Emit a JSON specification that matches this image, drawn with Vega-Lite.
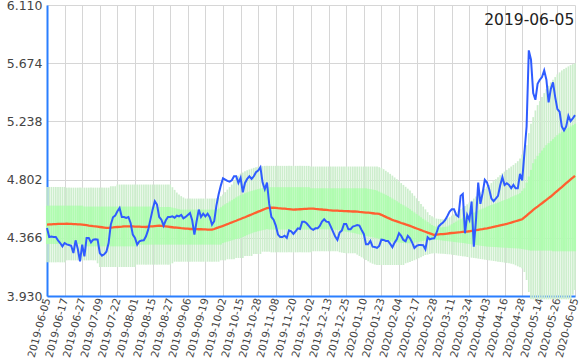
{
"$schema":"https://vega.github.io/schema/vega-lite/v6.json",
"width":528,"height":291,
"autosize":{"type":"none"},
"padding":{"left":47,"top":5,"right":10,"bottom":64},
"background":"white",
"config":{"view":{"stroke":null},"axis":{"labelFont":"DejaVu Sans","labelColor":"#444444","gridColor":"#d6d6d6","gridWidth":1,"domainColor":"#2a7fff","domainWidth":2,"ticks":false,"title":null,"zindex":1}},
"title":{"text":"2019-06-05","anchor":"end","orient":"top","font":"DejaVu Sans","fontSize":15.5,"fontWeight":"normal","color":"#222222","dy":33,"dx":-6},
"data":{"values":[
{"d":"2019-06-05","c":4.44,"m":4.465,"u2":4.747,"u1":4.607,"l1":4.32,"l2":4.182},
{"d":"2019-06-06","c":4.372,"m":4.466,"u2":4.747,"u1":4.607,"l1":4.32,"l2":4.182},
{"d":"2019-06-07","c":4.375,"m":4.467,"u2":4.747,"u1":4.607,"l1":4.32,"l2":4.182},
{"d":"2019-06-10","c":4.372,"m":4.468,"u2":4.747,"u1":4.607,"l1":4.32,"l2":4.182},
{"d":"2019-06-11","c":4.372,"m":4.469,"u2":4.747,"u1":4.607,"l1":4.32,"l2":4.182},
{"d":"2019-06-12","c":4.347,"m":4.47,"u2":4.747,"u1":4.607,"l1":4.32,"l2":4.182},
{"d":"2019-06-13","c":4.327,"m":4.47,"u2":4.747,"u1":4.607,"l1":4.32,"l2":4.182},
{"d":"2019-06-14","c":4.302,"m":4.471,"u2":4.747,"u1":4.607,"l1":4.32,"l2":4.182},
{"d":"2019-06-17","c":4.327,"m":4.471,"u2":4.747,"u1":4.607,"l1":4.32,"l2":4.182},
{"d":"2019-06-18","c":4.317,"m":4.472,"u2":4.742,"u1":4.607,"l1":4.32,"l2":4.197},
{"d":"2019-06-19","c":4.312,"m":4.471,"u2":4.742,"u1":4.607,"l1":4.32,"l2":4.197},
{"d":"2019-06-20","c":4.307,"m":4.47,"u2":4.742,"u1":4.607,"l1":4.32,"l2":4.197},
{"d":"2019-06-21","c":4.252,"m":4.469,"u2":4.742,"u1":4.607,"l1":4.32,"l2":4.197},
{"d":"2019-06-24","c":4.347,"m":4.468,"u2":4.742,"u1":4.607,"l1":4.32,"l2":4.197},
{"d":"2019-06-25","c":4.282,"m":4.467,"u2":4.742,"u1":4.607,"l1":4.32,"l2":4.197},
{"d":"2019-06-26","c":4.19,"m":4.466,"u2":4.742,"u1":4.607,"l1":4.32,"l2":4.197},
{"d":"2019-06-27","c":4.315,"m":4.465,"u2":4.742,"u1":4.607,"l1":4.302,"l2":4.197},
{"d":"2019-06-28","c":4.227,"m":4.463,"u2":4.742,"u1":4.6,"l1":4.302,"l2":4.197},
{"d":"2019-07-01","c":4.365,"m":4.461,"u2":4.742,"u1":4.6,"l1":4.302,"l2":4.197},
{"d":"2019-07-02","c":4.365,"m":4.458,"u2":4.742,"u1":4.6,"l1":4.302,"l2":4.197},
{"d":"2019-07-03","c":4.332,"m":4.456,"u2":4.742,"u1":4.6,"l1":4.302,"l2":4.197},
{"d":"2019-07-04","c":4.352,"m":4.453,"u2":4.742,"u1":4.6,"l1":4.302,"l2":4.197},
{"d":"2019-07-05","c":4.355,"m":4.451,"u2":4.742,"u1":4.6,"l1":4.302,"l2":4.197},
{"d":"2019-07-08","c":4.352,"m":4.449,"u2":4.742,"u1":4.6,"l1":4.302,"l2":4.175},
{"d":"2019-07-09","c":4.252,"m":4.447,"u2":4.742,"u1":4.6,"l1":4.302,"l2":4.147},
{"d":"2019-07-10","c":4.232,"m":4.445,"u2":4.742,"u1":4.6,"l1":4.302,"l2":4.147},
{"d":"2019-07-11","c":4.242,"m":4.443,"u2":4.742,"u1":4.6,"l1":4.302,"l2":4.147},
{"d":"2019-07-12","c":4.262,"m":4.441,"u2":4.742,"u1":4.6,"l1":4.302,"l2":4.147},
{"d":"2019-07-16","c":4.327,"m":4.441,"u2":4.742,"u1":4.6,"l1":4.302,"l2":4.147},
{"d":"2019-07-17","c":4.465,"m":4.443,"u2":4.752,"u1":4.6,"l1":4.302,"l2":4.147},
{"d":"2019-07-18","c":4.52,"m":4.444,"u2":4.752,"u1":4.6,"l1":4.302,"l2":4.147},
{"d":"2019-07-19","c":4.532,"m":4.446,"u2":4.752,"u1":4.6,"l1":4.302,"l2":4.147},
{"d":"2019-07-22","c":4.565,"m":4.447,"u2":4.765,"u1":4.6,"l1":4.302,"l2":4.147},
{"d":"2019-07-23","c":4.59,"m":4.448,"u2":4.765,"u1":4.6,"l1":4.302,"l2":4.147},
{"d":"2019-07-24","c":4.522,"m":4.449,"u2":4.765,"u1":4.6,"l1":4.302,"l2":4.147},
{"d":"2019-07-25","c":4.522,"m":4.451,"u2":4.765,"u1":4.6,"l1":4.302,"l2":4.147},
{"d":"2019-07-26","c":4.515,"m":4.452,"u2":4.765,"u1":4.6,"l1":4.302,"l2":4.147},
{"d":"2019-07-29","c":4.522,"m":4.452,"u2":4.765,"u1":4.6,"l1":4.302,"l2":4.147},
{"d":"2019-07-30","c":4.477,"m":4.451,"u2":4.765,"u1":4.6,"l1":4.302,"l2":4.147},
{"d":"2019-07-31","c":4.39,"m":4.451,"u2":4.765,"u1":4.6,"l1":4.302,"l2":4.147},
{"d":"2019-08-01","c":4.365,"m":4.45,"u2":4.765,"u1":4.6,"l1":4.302,"l2":4.147},
{"d":"2019-08-02","c":4.315,"m":4.45,"u2":4.765,"u1":4.6,"l1":4.315,"l2":4.165},
{"d":"2019-08-05","c":4.34,"m":4.449,"u2":4.765,"u1":4.6,"l1":4.315,"l2":4.165},
{"d":"2019-08-06","c":4.345,"m":4.448,"u2":4.765,"u1":4.6,"l1":4.315,"l2":4.165},
{"d":"2019-08-07","c":4.347,"m":4.448,"u2":4.765,"u1":4.6,"l1":4.315,"l2":4.165},
{"d":"2019-08-08","c":4.377,"m":4.447,"u2":4.765,"u1":4.6,"l1":4.315,"l2":4.165},
{"d":"2019-08-09","c":4.427,"m":4.449,"u2":4.765,"u1":4.6,"l1":4.315,"l2":4.165},
{"d":"2019-08-14","c":4.502,"m":4.451,"u2":4.765,"u1":4.6,"l1":4.315,"l2":4.165},
{"d":"2019-08-15","c":4.577,"m":4.452,"u2":4.765,"u1":4.6,"l1":4.315,"l2":4.165},
{"d":"2019-08-16","c":4.64,"m":4.454,"u2":4.765,"u1":4.6,"l1":4.315,"l2":4.165},
{"d":"2019-08-19","c":4.615,"m":4.456,"u2":4.765,"u1":4.6,"l1":4.315,"l2":4.165},
{"d":"2019-08-20","c":4.522,"m":4.457,"u2":4.765,"u1":4.597,"l1":4.315,"l2":4.165},
{"d":"2019-08-21","c":4.502,"m":4.455,"u2":4.765,"u1":4.597,"l1":4.315,"l2":4.165},
{"d":"2019-08-22","c":4.457,"m":4.453,"u2":4.765,"u1":4.597,"l1":4.315,"l2":4.165},
{"d":"2019-08-23","c":4.497,"m":4.451,"u2":4.765,"u1":4.597,"l1":4.315,"l2":4.165},
{"d":"2019-08-26","c":4.522,"m":4.449,"u2":4.765,"u1":4.597,"l1":4.315,"l2":4.165},
{"d":"2019-08-27","c":4.522,"m":4.447,"u2":4.765,"u1":4.597,"l1":4.315,"l2":4.165},
{"d":"2019-08-28","c":4.527,"m":4.445,"u2":4.745,"u1":4.592,"l1":4.315,"l2":4.175},
{"d":"2019-08-29","c":4.517,"m":4.443,"u2":4.725,"u1":4.588,"l1":4.315,"l2":4.187},
{"d":"2019-08-30","c":4.532,"m":4.442,"u2":4.705,"u1":4.584,"l1":4.315,"l2":4.187},
{"d":"2019-09-02","c":4.527,"m":4.44,"u2":4.69,"u1":4.58,"l1":4.315,"l2":4.187},
{"d":"2019-09-03","c":4.537,"m":4.438,"u2":4.678,"u1":4.577,"l1":4.315,"l2":4.187},
{"d":"2019-09-04","c":4.512,"m":4.437,"u2":4.668,"u1":4.577,"l1":4.315,"l2":4.187},
{"d":"2019-09-05","c":4.522,"m":4.435,"u2":4.66,"u1":4.577,"l1":4.315,"l2":4.187},
{"d":"2019-09-06","c":4.537,"m":4.434,"u2":4.66,"u1":4.577,"l1":4.315,"l2":4.187},
{"d":"2019-09-09","c":4.552,"m":4.432,"u2":4.66,"u1":4.577,"l1":4.315,"l2":4.187},
{"d":"2019-09-10","c":4.497,"m":4.432,"u2":4.66,"u1":4.577,"l1":4.315,"l2":4.187},
{"d":"2019-09-11","c":4.39,"m":4.431,"u2":4.66,"u1":4.577,"l1":4.315,"l2":4.187},
{"d":"2019-09-12","c":4.49,"m":4.431,"u2":4.66,"u1":4.577,"l1":4.315,"l2":4.187},
{"d":"2019-09-13","c":4.577,"m":4.43,"u2":4.66,"u1":4.577,"l1":4.315,"l2":4.187},
{"d":"2019-09-17","c":4.522,"m":4.43,"u2":4.66,"u1":4.577,"l1":4.315,"l2":4.187},
{"d":"2019-09-18","c":4.547,"m":4.429,"u2":4.66,"u1":4.577,"l1":4.315,"l2":4.187},
{"d":"2019-09-19","c":4.527,"m":4.429,"u2":4.66,"u1":4.577,"l1":4.315,"l2":4.187},
{"d":"2019-09-20","c":4.547,"m":4.428,"u2":4.66,"u1":4.577,"l1":4.315,"l2":4.187},
{"d":"2019-09-24","c":4.52,"m":4.427,"u2":4.66,"u1":4.577,"l1":4.315,"l2":4.187},
{"d":"2019-09-25","c":4.465,"m":4.427,"u2":4.66,"u1":4.577,"l1":4.315,"l2":4.187},
{"d":"2019-09-26","c":4.49,"m":4.432,"u2":4.66,"u1":4.577,"l1":4.315,"l2":4.187},
{"d":"2019-09-27","c":4.607,"m":4.438,"u2":4.662,"u1":4.577,"l1":4.315,"l2":4.187},
{"d":"2019-09-30","c":4.69,"m":4.444,"u2":4.665,"u1":4.585,"l1":4.315,"l2":4.187},
{"d":"2019-10-01","c":4.757,"m":4.449,"u2":4.677,"u1":4.595,"l1":4.315,"l2":4.197},
{"d":"2019-10-02","c":4.812,"m":4.455,"u2":4.69,"u1":4.607,"l1":4.327,"l2":4.197},
{"d":"2019-10-03","c":4.802,"m":4.462,"u2":4.708,"u1":4.617,"l1":4.332,"l2":4.197},
{"d":"2019-10-04","c":4.792,"m":4.468,"u2":4.727,"u1":4.627,"l1":4.337,"l2":4.205},
{"d":"2019-10-07","c":4.787,"m":4.475,"u2":4.746,"u1":4.638,"l1":4.342,"l2":4.205},
{"d":"2019-10-08","c":4.797,"m":4.481,"u2":4.765,"u1":4.648,"l1":4.347,"l2":4.205},
{"d":"2019-10-09","c":4.827,"m":4.488,"u2":4.79,"u1":4.658,"l1":4.352,"l2":4.205},
{"d":"2019-10-10","c":4.827,"m":4.494,"u2":4.815,"u1":4.668,"l1":4.357,"l2":4.215},
{"d":"2019-10-11","c":4.777,"m":4.501,"u2":4.831,"u1":4.677,"l1":4.361,"l2":4.215},
{"d":"2019-10-15","c":4.815,"m":4.507,"u2":4.847,"u1":4.685,"l1":4.365,"l2":4.215},
{"d":"2019-10-16","c":4.707,"m":4.514,"u2":4.855,"u1":4.692,"l1":4.372,"l2":4.215},
{"d":"2019-10-17","c":4.777,"m":4.52,"u2":4.864,"u1":4.7,"l1":4.379,"l2":4.23},
{"d":"2019-10-18","c":4.807,"m":4.527,"u2":4.872,"u1":4.706,"l1":4.386,"l2":4.23},
{"d":"2019-10-21","c":4.827,"m":4.534,"u2":4.878,"u1":4.712,"l1":4.393,"l2":4.23},
{"d":"2019-10-23","c":4.807,"m":4.541,"u2":4.884,"u1":4.718,"l1":4.4,"l2":4.23},
{"d":"2019-10-24","c":4.827,"m":4.548,"u2":4.89,"u1":4.722,"l1":4.407,"l2":4.245},
{"d":"2019-10-25","c":4.857,"m":4.555,"u2":4.895,"u1":4.727,"l1":4.411,"l2":4.245},
{"d":"2019-10-28","c":4.87,"m":4.562,"u2":4.898,"u1":4.731,"l1":4.415,"l2":4.245},
{"d":"2019-10-29","c":4.895,"m":4.568,"u2":4.901,"u1":4.735,"l1":4.419,"l2":4.245},
{"d":"2019-10-30","c":4.78,"m":4.575,"u2":4.903,"u1":4.739,"l1":4.423,"l2":4.262},
{"d":"2019-10-31","c":4.73,"m":4.582,"u2":4.905,"u1":4.742,"l1":4.427,"l2":4.262},
{"d":"2019-11-01","c":4.78,"m":4.588,"u2":4.905,"u1":4.745,"l1":4.432,"l2":4.262},
{"d":"2019-11-05","c":4.62,"m":4.59,"u2":4.905,"u1":4.745,"l1":4.428,"l2":4.262},
{"d":"2019-11-06","c":4.522,"m":4.592,"u2":4.905,"u1":4.745,"l1":4.428,"l2":4.257},
{"d":"2019-11-07","c":4.502,"m":4.591,"u2":4.905,"u1":4.745,"l1":4.428,"l2":4.257},
{"d":"2019-11-08","c":4.457,"m":4.59,"u2":4.905,"u1":4.745,"l1":4.428,"l2":4.257},
{"d":"2019-11-11","c":4.39,"m":4.588,"u2":4.905,"u1":4.745,"l1":4.428,"l2":4.257},
{"d":"2019-11-12","c":4.372,"m":4.587,"u2":4.905,"u1":4.745,"l1":4.428,"l2":4.257},
{"d":"2019-11-13","c":4.372,"m":4.585,"u2":4.905,"u1":4.745,"l1":4.428,"l2":4.257},
{"d":"2019-11-14","c":4.382,"m":4.584,"u2":4.905,"u1":4.745,"l1":4.428,"l2":4.257},
{"d":"2019-11-15","c":4.365,"m":4.582,"u2":4.905,"u1":4.745,"l1":4.428,"l2":4.257},
{"d":"2019-11-18","c":4.422,"m":4.581,"u2":4.905,"u1":4.745,"l1":4.428,"l2":4.257},
{"d":"2019-11-19","c":4.415,"m":4.579,"u2":4.905,"u1":4.745,"l1":4.428,"l2":4.257},
{"d":"2019-11-20","c":4.395,"m":4.577,"u2":4.905,"u1":4.745,"l1":4.428,"l2":4.257},
{"d":"2019-11-21","c":4.415,"m":4.578,"u2":4.905,"u1":4.745,"l1":4.428,"l2":4.257},
{"d":"2019-11-22","c":4.437,"m":4.579,"u2":4.905,"u1":4.745,"l1":4.428,"l2":4.257},
{"d":"2019-11-25","c":4.432,"m":4.58,"u2":4.905,"u1":4.745,"l1":4.428,"l2":4.257},
{"d":"2019-11-26","c":4.487,"m":4.581,"u2":4.905,"u1":4.745,"l1":4.428,"l2":4.257},
{"d":"2019-11-27","c":4.487,"m":4.582,"u2":4.905,"u1":4.745,"l1":4.428,"l2":4.257},
{"d":"2019-11-28","c":4.475,"m":4.583,"u2":4.905,"u1":4.745,"l1":4.428,"l2":4.257},
{"d":"2019-11-29","c":4.455,"m":4.584,"u2":4.905,"u1":4.745,"l1":4.428,"l2":4.257},
{"d":"2019-12-02","c":4.435,"m":4.585,"u2":4.9,"u1":4.737,"l1":4.43,"l2":4.257},
{"d":"2019-12-03","c":4.425,"m":4.584,"u2":4.9,"u1":4.737,"l1":4.43,"l2":4.265},
{"d":"2019-12-04","c":4.437,"m":4.582,"u2":4.9,"u1":4.737,"l1":4.43,"l2":4.265},
{"d":"2019-12-05","c":4.437,"m":4.581,"u2":4.9,"u1":4.737,"l1":4.43,"l2":4.265},
{"d":"2019-12-06","c":4.455,"m":4.579,"u2":4.9,"u1":4.737,"l1":4.43,"l2":4.265},
{"d":"2019-12-10","c":4.487,"m":4.578,"u2":4.9,"u1":4.737,"l1":4.43,"l2":4.265},
{"d":"2019-12-11","c":4.505,"m":4.576,"u2":4.9,"u1":4.737,"l1":4.43,"l2":4.265},
{"d":"2019-12-12","c":4.487,"m":4.575,"u2":4.9,"u1":4.737,"l1":4.43,"l2":4.265},
{"d":"2019-12-13","c":4.485,"m":4.573,"u2":4.9,"u1":4.737,"l1":4.43,"l2":4.265},
{"d":"2019-12-16","c":4.45,"m":4.572,"u2":4.9,"u1":4.737,"l1":4.43,"l2":4.265},
{"d":"2019-12-17","c":4.412,"m":4.57,"u2":4.9,"u1":4.737,"l1":4.43,"l2":4.265},
{"d":"2019-12-18","c":4.375,"m":4.569,"u2":4.9,"u1":4.737,"l1":4.427,"l2":4.265},
{"d":"2019-12-19","c":4.35,"m":4.569,"u2":4.9,"u1":4.737,"l1":4.424,"l2":4.265},
{"d":"2019-12-20","c":4.405,"m":4.568,"u2":4.9,"u1":4.737,"l1":4.421,"l2":4.258},
{"d":"2019-12-23","c":4.42,"m":4.567,"u2":4.9,"u1":4.737,"l1":4.418,"l2":4.255},
{"d":"2019-12-24","c":4.47,"m":4.566,"u2":4.9,"u1":4.737,"l1":4.415,"l2":4.252},
{"d":"2019-12-25","c":4.47,"m":4.566,"u2":4.9,"u1":4.737,"l1":4.412,"l2":4.25},
{"d":"2019-12-26","c":4.43,"m":4.565,"u2":4.9,"u1":4.737,"l1":4.409,"l2":4.25},
{"d":"2019-12-27","c":4.43,"m":4.564,"u2":4.9,"u1":4.737,"l1":4.406,"l2":4.25},
{"d":"2019-12-30","c":4.45,"m":4.563,"u2":4.9,"u1":4.737,"l1":4.403,"l2":4.25},
{"d":"2020-01-06","c":4.455,"m":4.563,"u2":4.9,"u1":4.737,"l1":4.4,"l2":4.25},
{"d":"2020-01-07","c":4.462,"m":4.562,"u2":4.9,"u1":4.737,"l1":4.396,"l2":4.24},
{"d":"2020-01-08","c":4.457,"m":4.56,"u2":4.9,"u1":4.737,"l1":4.392,"l2":4.23},
{"d":"2020-01-09","c":4.425,"m":4.559,"u2":4.9,"u1":4.737,"l1":4.388,"l2":4.22},
{"d":"2020-01-10","c":4.395,"m":4.557,"u2":4.9,"u1":4.737,"l1":4.384,"l2":4.21},
{"d":"2020-01-14","c":4.317,"m":4.555,"u2":4.9,"u1":4.737,"l1":4.38,"l2":4.2},
{"d":"2020-01-15","c":4.317,"m":4.554,"u2":4.9,"u1":4.734,"l1":4.377,"l2":4.19},
{"d":"2020-01-16","c":4.342,"m":4.552,"u2":4.9,"u1":4.731,"l1":4.373,"l2":4.18},
{"d":"2020-01-17","c":4.3,"m":4.55,"u2":4.9,"u1":4.727,"l1":4.369,"l2":4.172},
{"d":"2020-01-20","c":4.297,"m":4.548,"u2":4.9,"u1":4.724,"l1":4.366,"l2":4.166},
{"d":"2020-01-21","c":4.29,"m":4.547,"u2":4.9,"u1":4.72,"l1":4.362,"l2":4.162},
{"d":"2020-01-22","c":4.305,"m":4.545,"u2":4.895,"u1":4.712,"l1":4.358,"l2":4.162},
{"d":"2020-01-23","c":4.352,"m":4.538,"u2":4.89,"u1":4.704,"l1":4.354,"l2":4.162},
{"d":"2020-01-24","c":4.35,"m":4.53,"u2":4.88,"u1":4.696,"l1":4.35,"l2":4.162},
{"d":"2020-01-27","c":4.342,"m":4.523,"u2":4.868,"u1":4.688,"l1":4.346,"l2":4.162},
{"d":"2020-01-28","c":4.342,"m":4.515,"u2":4.857,"u1":4.68,"l1":4.342,"l2":4.162},
{"d":"2020-01-29","c":4.32,"m":4.508,"u2":4.845,"u1":4.67,"l1":4.339,"l2":4.162},
{"d":"2020-01-30","c":4.295,"m":4.5,"u2":4.832,"u1":4.66,"l1":4.337,"l2":4.162},
{"d":"2020-01-31","c":4.33,"m":4.494,"u2":4.818,"u1":4.65,"l1":4.335,"l2":4.162},
{"d":"2020-02-03","c":4.355,"m":4.489,"u2":4.805,"u1":4.64,"l1":4.333,"l2":4.162},
{"d":"2020-02-04","c":4.4,"m":4.483,"u2":4.79,"u1":4.63,"l1":4.331,"l2":4.162},
{"d":"2020-02-05","c":4.38,"m":4.477,"u2":4.776,"u1":4.62,"l1":4.329,"l2":4.162},
{"d":"2020-02-06","c":4.35,"m":4.472,"u2":4.762,"u1":4.61,"l1":4.327,"l2":4.162},
{"d":"2020-02-07","c":4.34,"m":4.466,"u2":4.748,"u1":4.6,"l1":4.325,"l2":4.175},
{"d":"2020-02-10","c":4.38,"m":4.461,"u2":4.734,"u1":4.59,"l1":4.325,"l2":4.18},
{"d":"2020-02-12","c":4.362,"m":4.455,"u2":4.72,"u1":4.58,"l1":4.325,"l2":4.185},
{"d":"2020-02-13","c":4.33,"m":4.449,"u2":4.7,"u1":4.568,"l1":4.327,"l2":4.192},
{"d":"2020-02-14","c":4.29,"m":4.442,"u2":4.681,"u1":4.556,"l1":4.33,"l2":4.198},
{"d":"2020-02-17","c":4.305,"m":4.436,"u2":4.662,"u1":4.544,"l1":4.333,"l2":4.205},
{"d":"2020-02-18","c":4.312,"m":4.43,"u2":4.641,"u1":4.532,"l1":4.336,"l2":4.213},
{"d":"2020-02-19","c":4.312,"m":4.424,"u2":4.62,"u1":4.52,"l1":4.339,"l2":4.221},
{"d":"2020-02-20","c":4.31,"m":4.417,"u2":4.6,"u1":4.508,"l1":4.342,"l2":4.229},
{"d":"2020-02-21","c":4.28,"m":4.411,"u2":4.579,"u1":4.497,"l1":4.345,"l2":4.237},
{"d":"2020-02-25","c":4.37,"m":4.405,"u2":4.558,"u1":4.485,"l1":4.347,"l2":4.24},
{"d":"2020-02-26","c":4.355,"m":4.399,"u2":4.537,"u1":4.473,"l1":4.349,"l2":4.245},
{"d":"2020-02-27","c":4.36,"m":4.393,"u2":4.528,"u1":4.462,"l1":4.35,"l2":4.248},
{"d":"2020-02-28","c":4.362,"m":4.387,"u2":4.519,"u1":4.455,"l1":4.35,"l2":4.25},
{"d":"2020-03-02","c":4.4,"m":4.389,"u2":4.51,"u1":4.448,"l1":4.35,"l2":4.25},
{"d":"2020-03-03","c":4.45,"m":4.391,"u2":4.508,"u1":4.442,"l1":4.349,"l2":4.248},
{"d":"2020-03-04","c":4.467,"m":4.393,"u2":4.506,"u1":4.444,"l1":4.347,"l2":4.247},
{"d":"2020-03-05","c":4.48,"m":4.394,"u2":4.505,"u1":4.446,"l1":4.345,"l2":4.246},
{"d":"2020-03-06","c":4.5,"m":4.396,"u2":4.51,"u1":4.448,"l1":4.343,"l2":4.245},
{"d":"2020-03-09","c":4.53,"m":4.398,"u2":4.515,"u1":4.45,"l1":4.341,"l2":4.243},
{"d":"2020-03-10","c":4.562,"m":4.4,"u2":4.52,"u1":4.459,"l1":4.339,"l2":4.242},
{"d":"2020-03-11","c":4.58,"m":4.402,"u2":4.532,"u1":4.468,"l1":4.337,"l2":4.24},
{"d":"2020-03-12","c":4.58,"m":4.403,"u2":4.543,"u1":4.478,"l1":4.335,"l2":4.237},
{"d":"2020-03-13","c":4.537,"m":4.405,"u2":4.555,"u1":4.487,"l1":4.333,"l2":4.235},
{"d":"2020-03-16","c":4.525,"m":4.407,"u2":4.567,"u1":4.497,"l1":4.331,"l2":4.232},
{"d":"2020-03-17","c":4.68,"m":4.408,"u2":4.58,"u1":4.506,"l1":4.329,"l2":4.23},
{"d":"2020-03-18","c":4.695,"m":4.41,"u2":4.592,"u1":4.516,"l1":4.327,"l2":4.227},
{"d":"2020-03-19","c":4.4,"m":4.412,"u2":4.605,"u1":4.525,"l1":4.325,"l2":4.225},
{"d":"2020-03-23","c":4.537,"m":4.413,"u2":4.617,"u1":4.532,"l1":4.322,"l2":4.222},
{"d":"2020-03-24","c":4.5,"m":4.415,"u2":4.63,"u1":4.54,"l1":4.32,"l2":4.22},
{"d":"2020-03-25","c":4.637,"m":4.418,"u2":4.645,"u1":4.547,"l1":4.317,"l2":4.217},
{"d":"2020-03-26","c":4.3,"m":4.42,"u2":4.66,"u1":4.555,"l1":4.315,"l2":4.215},
{"d":"2020-03-27","c":4.5,"m":4.423,"u2":4.675,"u1":4.562,"l1":4.312,"l2":4.212},
{"d":"2020-03-30","c":4.78,"m":4.426,"u2":4.69,"u1":4.57,"l1":4.31,"l2":4.21},
{"d":"2020-03-31","c":4.62,"m":4.429,"u2":4.705,"u1":4.577,"l1":4.307,"l2":4.207},
{"d":"2020-04-01","c":4.7,"m":4.431,"u2":4.72,"u1":4.585,"l1":4.305,"l2":4.205},
{"d":"2020-04-02","c":4.8,"m":4.434,"u2":4.734,"u1":4.592,"l1":4.302,"l2":4.202},
{"d":"2020-04-03","c":4.78,"m":4.437,"u2":4.748,"u1":4.6,"l1":4.3,"l2":4.2},
{"d":"2020-04-06","c":4.73,"m":4.441,"u2":4.762,"u1":4.606,"l1":4.299,"l2":4.197},
{"d":"2020-04-07","c":4.66,"m":4.444,"u2":4.776,"u1":4.612,"l1":4.298,"l2":4.195},
{"d":"2020-04-08","c":4.64,"m":4.448,"u2":4.79,"u1":4.618,"l1":4.297,"l2":4.192},
{"d":"2020-04-09","c":4.66,"m":4.452,"u2":4.805,"u1":4.624,"l1":4.296,"l2":4.19},
{"d":"2020-04-13","c":4.68,"m":4.455,"u2":4.82,"u1":4.63,"l1":4.295,"l2":4.187},
{"d":"2020-04-14","c":4.76,"m":4.459,"u2":4.835,"u1":4.636,"l1":4.294,"l2":4.185},
{"d":"2020-04-15","c":4.82,"m":4.463,"u2":4.85,"u1":4.643,"l1":4.293,"l2":4.183},
{"d":"2020-04-16","c":4.762,"m":4.466,"u2":4.862,"u1":4.649,"l1":4.292,"l2":4.18},
{"d":"2020-04-17","c":4.775,"m":4.47,"u2":4.875,"u1":4.656,"l1":4.291,"l2":4.178},
{"d":"2020-04-20","c":4.762,"m":4.475,"u2":4.887,"u1":4.662,"l1":4.29,"l2":4.175},
{"d":"2020-04-21","c":4.737,"m":4.48,"u2":4.9,"u1":4.67,"l1":4.289,"l2":4.172},
{"d":"2020-04-22","c":4.762,"m":4.485,"u2":4.912,"u1":4.677,"l1":4.288,"l2":4.168},
{"d":"2020-04-23","c":4.737,"m":4.49,"u2":4.925,"u1":4.685,"l1":4.287,"l2":4.16},
{"d":"2020-04-24","c":4.737,"m":4.495,"u2":4.94,"u1":4.692,"l1":4.286,"l2":4.152},
{"d":"2020-04-27","c":4.845,"m":4.5,"u2":4.96,"u1":4.7,"l1":4.285,"l2":4.145},
{"d":"2020-04-28","c":4.795,"m":4.505,"u2":4.99,"u1":4.718,"l1":4.282,"l2":4.137},
{"d":"2020-04-30","c":5.0,"m":4.519,"u2":5.02,"u1":4.737,"l1":4.279,"l2":4.11},
{"d":"2020-05-01","c":5.2,"m":4.533,"u2":5.06,"u1":4.78,"l1":4.276,"l2":4.05},
{"d":"2020-05-07","c":5.77,"m":4.547,"u2":5.15,"u1":4.825,"l1":4.272,"l2":3.96},
{"d":"2020-05-08","c":5.7,"m":4.561,"u2":5.22,"u1":4.875,"l1":4.27,"l2":3.905},
{"d":"2020-05-11","c":5.45,"m":4.575,"u2":5.27,"u1":4.925,"l1":4.27,"l2":3.905},
{"d":"2020-05-12","c":5.4,"m":4.588,"u2":5.32,"u1":4.955,"l1":4.27,"l2":3.905},
{"d":"2020-05-13","c":5.52,"m":4.6,"u2":5.36,"u1":4.98,"l1":4.27,"l2":3.905},
{"d":"2020-05-14","c":5.55,"m":4.613,"u2":5.39,"u1":5.0,"l1":4.27,"l2":3.905},
{"d":"2020-05-15","c":5.57,"m":4.625,"u2":5.42,"u1":5.02,"l1":4.27,"l2":3.905},
{"d":"2020-05-18","c":5.62,"m":4.638,"u2":5.45,"u1":5.04,"l1":4.27,"l2":3.905},
{"d":"2020-05-19","c":5.55,"m":4.65,"u2":5.48,"u1":5.06,"l1":4.27,"l2":3.905},
{"d":"2020-05-20","c":5.38,"m":4.663,"u2":5.505,"u1":5.075,"l1":4.27,"l2":3.905},
{"d":"2020-05-21","c":5.48,"m":4.675,"u2":5.53,"u1":5.09,"l1":4.27,"l2":3.905},
{"d":"2020-05-22","c":5.53,"m":4.689,"u2":5.55,"u1":5.105,"l1":4.265,"l2":3.905},
{"d":"2020-05-25","c":5.42,"m":4.704,"u2":5.57,"u1":5.12,"l1":4.265,"l2":3.905},
{"d":"2020-05-26","c":5.33,"m":4.718,"u2":5.59,"u1":5.135,"l1":4.265,"l2":3.905},
{"d":"2020-05-27","c":5.31,"m":4.732,"u2":5.605,"u1":5.148,"l1":4.265,"l2":3.905},
{"d":"2020-05-28","c":5.2,"m":4.746,"u2":5.62,"u1":5.16,"l1":4.265,"l2":3.905},
{"d":"2020-05-29","c":5.17,"m":4.761,"u2":5.63,"u1":5.17,"l1":4.265,"l2":3.905},
{"d":"2020-06-01","c":5.2,"m":4.775,"u2":5.64,"u1":5.18,"l1":4.265,"l2":3.905},
{"d":"2020-06-02","c":5.28,"m":4.789,"u2":5.65,"u1":5.19,"l1":4.265,"l2":3.905},
{"d":"2020-06-03","c":5.24,"m":4.803,"u2":5.66,"u1":5.2,"l1":4.265,"l2":3.905},
{"d":"2020-06-04","c":5.26,"m":4.816,"u2":5.667,"u1":5.21,"l1":4.265,"l2":3.94},
{"d":"2020-06-05","c":5.285,"m":4.83,"u2":5.674,"u1":5.22,"l1":4.265,"l2":3.975}
]},
"encoding":{
"x":{"field":"d","type":"ordinal","scale":{"type":"point","padding":0},
"axis":{"values":["2019-06-05","2019-06-17","2019-06-27","2019-07-09","2019-07-22","2019-08-01","2019-08-15","2019-08-27","2019-09-06","2019-09-19","2019-10-02","2019-10-15","2019-10-28","2019-11-08","2019-11-20","2019-12-02","2019-12-13","2019-12-25","2020-01-10","2020-01-23","2020-02-04","2020-02-17","2020-02-28","2020-03-11","2020-03-24","2020-04-03","2020-04-16","2020-04-28","2020-05-14","2020-05-26","2020-06-05"],
"labelAngle":-75,"labelAlign":"right","labelBaseline":"middle","labelFontSize":10.5,"labelPadding":2,"labelOverlap":false,"labelBound":false,"labelFlush":false,"grid":true}}
},
"layer":[
{"mark":{"type":"rule","color":"#cdeecd","strokeWidth":1.7,"clip":false},
 "encoding":{"y":{"field":"l2","type":"quantitative","scale":{"domain":[3.93,6.11],"nice":false,"zero":false},
   "axis":{"values":[3.93,4.366,4.802,5.238,5.674,6.11],"format":".3f","labelFontSize":12.5,"labelPadding":5,"grid":true}},
  "y2":{"field":"u2"}}},
{"mark":{"type":"rule","color":"#b0fcb0","strokeWidth":2.1},
 "encoding":{"y":{"field":"l1","type":"quantitative"},"y2":{"field":"u1"}}},
{"mark":{"type":"line","color":"#ff6030","strokeWidth":2.3},
 "encoding":{"y":{"field":"m","type":"quantitative"}}},
{"mark":{"type":"line","color":"#2f5cff","strokeWidth":2},
 "encoding":{"y":{"field":"c","type":"quantitative"}}}
]
}
